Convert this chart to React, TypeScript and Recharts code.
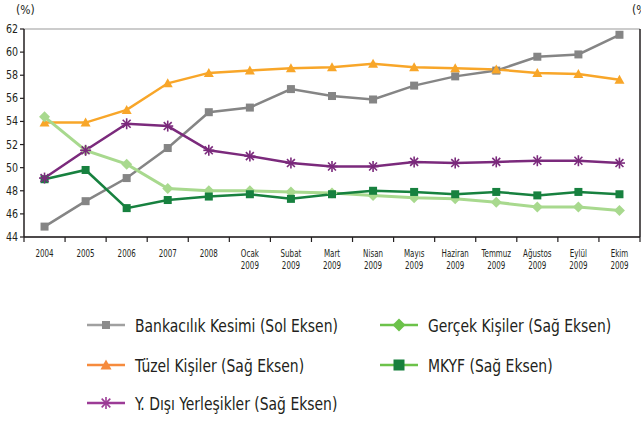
import React from 'react';
import { LineChart, Line, XAxis, YAxis, CartesianGrid } from 'recharts';

const months = ['2004', '2005', '2006', '2007', '2008', 'Ocak', 'Subat', 'Mart', 'Nisan', 'Mayıs', 'Haziran', 'Temmuz', 'Ağustos', 'Eylül', 'Ekim'];
const years = ['', '', '', '', '', '2009', '2009', '2009', '2009', '2009', '2009', '2009', '2009', '2009', '2009'];

const bankacilik = [44.9, 47.1, 49.1, 51.7, 54.8, 55.2, 56.8, 56.2, 55.9, 57.1, 57.9, 58.4, 59.6, 59.8, 61.5];
const tuzel = [53.9, 53.9, 55.0, 57.3, 58.2, 58.4, 58.6, 58.7, 59.0, 58.7, 58.6, 58.5, 58.2, 58.1, 57.6];
const yDisi = [49.1, 51.5, 53.8, 53.6, 51.5, 51.0, 50.4, 50.1, 50.1, 50.5, 50.4, 50.5, 50.6, 50.6, 50.4];
const gercek = [54.4, 51.5, 50.3, 48.2, 48.0, 48.0, 47.9, 47.8, 47.6, 47.4, 47.3, 47.0, 46.6, 46.6, 46.3];
const mkyf = [49.0, 49.8, 46.5, 47.2, 47.5, 47.7, 47.3, 47.7, 48.0, 47.9, 47.7, 47.9, 47.6, 47.9, 47.7];

const leftTicks = [44, 46, 48, 50, 52, 54, 56, 58, 60, 62];
const rightTicks = [44, 47.6, 51.2, 54.8, 58.4, 62];

const data = months.map((m, i) => ({
  i,
  bankacilik: bankacilik[i],
  tuzel: tuzel[i],
  yDisi: yDisi[i],
  gercek: gercek[i],
  mkyf: mkyf[i],
}));

// category boundaries for the x tick marks
const bounds = [...months.map((_, i) => i - 0.5), months.length - 0.5];

const W = 641;
const H = 421;
const M = { top: 29, right: 1, left: 0, bottom: 144 };
const YW = 24;
const HALF = (W - M.left - M.right - YW) / months.length / 2;
const FONT = "'Liberation Sans Narrow', 'DejaVu Sans Condensed', sans-serif";

const XTick = ({ x, y, payload }: any) => {
  const idx = Math.round(payload.value + 0.5);
  if (idx >= months.length) return <g />;
  return (
    <g transform={`translate(${x + HALF},${y}) scale(0.72,1)`}>
      <text textAnchor="middle" y={15} fontSize={11} fill="#231f20" fontFamily={FONT}>{months[idx]}</text>
      {years[idx] && (
        <text textAnchor="middle" y={27} fontSize={11} fill="#231f20" fontFamily={FONT}>{years[idx]}</text>
      )}
    </g>
  );
};

const YTick = ({ x, y, payload }: any) => (
  <text transform={`translate(${x},${y + 4}) scale(0.88,1)`} textAnchor="end" fontSize={12} fill="#231f20" fontFamily={FONT}>
    {payload.value}
  </text>
);

const Square = ({ cx, cy, size, fill }: any) => (
  <rect x={cx - size / 2} y={cy - size / 2} width={size} height={size} fill={fill} />
);
const Triangle = ({ cx, cy, size, fill }: any) => (
  <polygon points={`${cx - size / 2},${cy + size * 0.4} ${cx + size / 2},${cy + size * 0.4} ${cx},${cy - size * 0.5}`} fill={fill} />
);
const Diamond = ({ cx, cy, size, fill }: any) => (
  <polygon points={`${cx},${cy - size / 2} ${cx + size / 2},${cy} ${cx},${cy + size / 2} ${cx - size / 2},${cy}`} fill={fill} />
);
const Star = ({ cx, cy, size, fill }: any) => {
  const r = size / 2;
  const d = r * 0.72;
  return (
    <g stroke={fill} strokeWidth={1.6}>
      <line x1={cx - r} y1={cy} x2={cx + r} y2={cy} />
      <line x1={cx} y1={cy - r} x2={cx} y2={cy + r} />
      <line x1={cx - d} y1={cy - d} x2={cx + d} y2={cy + d} />
      <line x1={cx - d} y1={cy + d} x2={cx + d} y2={cy - d} />
    </g>
  );
};

const dot = (Shape: any, size: number, fill: string) => (p: any) => (
  <Shape key={p.key ?? `${fill}-${p.index}`} cx={p.cx} cy={p.cy} size={size} fill={fill} />
);

const legendLeft = [
  { name: 'Bankacılık Kesimi (Sol Eksen)', Shape: Square, size: 8, line: '#a0a0a0', fill: '#8c8c8c' },
  { name: 'Tüzel Kişiler (Sağ Eksen)', Shape: Triangle, size: 11, line: '#f68b3d', fill: '#f68b3d' },
  { name: 'Y. Dışı Yerleşikler (Sağ Eksen)', Shape: Star, size: 12, line: '#9c3b96', fill: '#9c3b96' },
];
const legendRight = [
  { name: 'Gerçek Kişiler (Sağ Eksen)', Shape: Diamond, size: 13, line: '#6cc24a', fill: '#6cc24a' },
  { name: 'MKYF (Sağ Eksen)', Shape: Square, size: 11, line: '#6cc24a', fill: '#17803d' },
];

const LegendItem = ({ item, x, y }: any) => (
  <div style={{ position: 'absolute', left: x, top: y - 12, height: 24, display: 'flex', alignItems: 'center', whiteSpace: 'nowrap' }}>
    <svg width={40} height={24} style={{ marginRight: 8 }}>
      <line x1={0} y1={12} x2={38} y2={12} stroke={item.line} strokeWidth={2.5} />
      <item.Shape cx={19} cy={12} size={item.size} fill={item.fill} />
    </svg>
    <span style={{ fontFamily: FONT, fontSize: 18, color: '#231f20', display: 'inline-block', transform: 'scaleX(0.86)', transformOrigin: 'left center' }}>
      {item.name}
    </span>
  </div>
);

export default function App() {
  return (
    <div style={{ position: 'absolute', left: 0, top: 0, width: W, height: H, overflow: 'hidden', background: '#fff' }}>
      <div style={{ position: 'absolute', left: 16, top: 3, fontFamily: FONT, fontSize: 12, color: '#231f20' }}>(%)</div>
      <div style={{ position: 'absolute', left: 632, top: 3, fontFamily: FONT, fontSize: 12, color: '#231f20', whiteSpace: 'nowrap' }}>(%)</div>
      <LineChart width={W} height={H} data={data} margin={M}>
        <CartesianGrid vertical={false} stroke="#9a9a9a" strokeWidth={1.2} />
        <XAxis
          dataKey="i"
          type="number"
          domain={[-0.5, months.length - 0.5]}
          ticks={bounds}
          interval={0}
          tick={<XTick />}
          tickSize={5}
          tickMargin={0}
          height={40}
          stroke="#231f20"
          axisLine={{ stroke: '#231f20', strokeWidth: 1.5 }}
          tickLine={{ stroke: '#231f20', strokeWidth: 1.2 }}
        />
        <YAxis
          yAxisId="left"
          domain={[44, 62]}
          ticks={leftTicks}
          interval={0}
          width={YW}
          tick={<YTick />}
          tickSize={4}
          tickMargin={2}
          axisLine={{ stroke: '#231f20', strokeWidth: 1.5 }}
          tickLine={{ stroke: '#231f20', strokeWidth: 1.2 }}
        />
        <YAxis
          yAxisId="right"
          orientation="right"
          mirror
          domain={[44, 62]}
          ticks={rightTicks}
          interval={0}
          tick={false}
          tickSize={12}
          axisLine={{ stroke: '#231f20', strokeWidth: 1.5 }}
          tickLine={{ stroke: '#231f20', strokeWidth: 1.2 }}
        />
        <Line yAxisId="left" dataKey="bankacilik" stroke="#858585" strokeWidth={2.5} isAnimationActive={false} dot={dot(Square, 8, '#858585')} />
        <Line yAxisId="right" dataKey="tuzel" stroke="#f8a629" strokeWidth={2.5} isAnimationActive={false} dot={dot(Triangle, 10, '#f8a629')} />
        <Line yAxisId="right" dataKey="gercek" stroke="#a8d98e" strokeWidth={3} isAnimationActive={false} dot={dot(Diamond, 11, '#a8d98e')} />
        <Line yAxisId="right" dataKey="mkyf" stroke="#17813f" strokeWidth={2.5} isAnimationActive={false} dot={dot(Square, 8, '#17813f')} />
        <Line yAxisId="right" dataKey="yDisi" stroke="#7b2a7c" strokeWidth={2.5} isAnimationActive={false} dot={dot(Star, 11, '#7b2a7c')} />
      </LineChart>
      {legendLeft.map((item, k) => (
        <LegendItem key={item.name} item={item} x={87} y={[325, 365, 403][k]} />
      ))}
      {legendRight.map((item, k) => (
        <LegendItem key={item.name} item={item} x={380} y={[325, 365][k]} />
      ))}
    </div>
  );
}
